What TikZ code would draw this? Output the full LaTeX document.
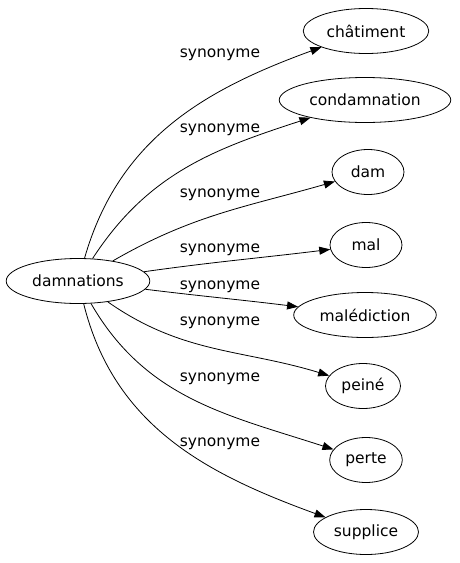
\documentclass[tikz,border=0pt]{standalone}
\usepackage{fontspec}
\setmainfont{DejaVu Sans}
\usetikzlibrary{shapes.geometric,arrows.meta}

\tikzset{
  word/.style={draw, shape=ellipse, inner xsep=5pt, inner ysep=8pt,
    minimum width=72pt, minimum height=45pt, line width=0.8pt,
    font=\fontsize{15.5}{18}\selectfont},
  rel/.style={font=\fontsize{15.5}{18}\selectfont, inner sep=0pt},
  syn/.style={-{Triangle[length=11pt,width=8pt]}, line width=0.8pt},
}

\begin{document}
\begin{tikzpicture}[x=1pt, y=-1pt]
  \useasboundingbox (0,0) rectangle (459,563);
  % source word
  \node[word] (damnations) at (78,281) {damnations};
  % synonyms on the right
  \node[word] (chatiment) at (366,31) {châtiment};
  \node[word] (condamnation) at (365,100) {condamnation};
  \node[word] (dam) at (368,172) {dam};
  \node[word] (mal) at (366,245) {mal};
  \node[word] (malediction) at (365,315) {malédiction};
  \node[word] (peine) at (363,386) {peiné};
  \node[word] (perte) at (366,460) {perte};
  \node[word] (supplice) at (366,532) {supplice};
  % edges
  \draw[syn] (damnations) to[out=74, in=200] (chatiment);
  \draw[syn] (damnations) to[out=57, in=198] (condamnation);
  \draw[syn] (damnations) to[out=30, in=196] (dam);
  \draw[syn] (damnations) to[out=8, in=187] (mal);
  \draw[syn] (damnations) to[out=-7, in=173] (malediction);
  \draw[syn] (damnations) to[out=-35, in=163] (peine);
  \draw[syn] (damnations) to[out=-60, in=162] (perte);
  \draw[syn] (damnations) to[out=-76, in=160] (supplice);
  % edge labels
  \node[rel] (lab1) at (220,55) {synonyme};
  \node[rel] (lab2) at (220,130) {synonyme};
  \node[rel] (lab3) at (220,195) {synonyme};
  \node[rel] (lab4) at (220,250) {synonyme};
  \node[rel] (lab5) at (220,287) {synonyme};
  \node[rel] (lab6) at (220,323) {synonyme};
  \node[rel] (lab7) at (220,379) {synonyme};
  \node[rel] (lab8) at (220,444) {synonyme};
\end{tikzpicture}
\end{document}
